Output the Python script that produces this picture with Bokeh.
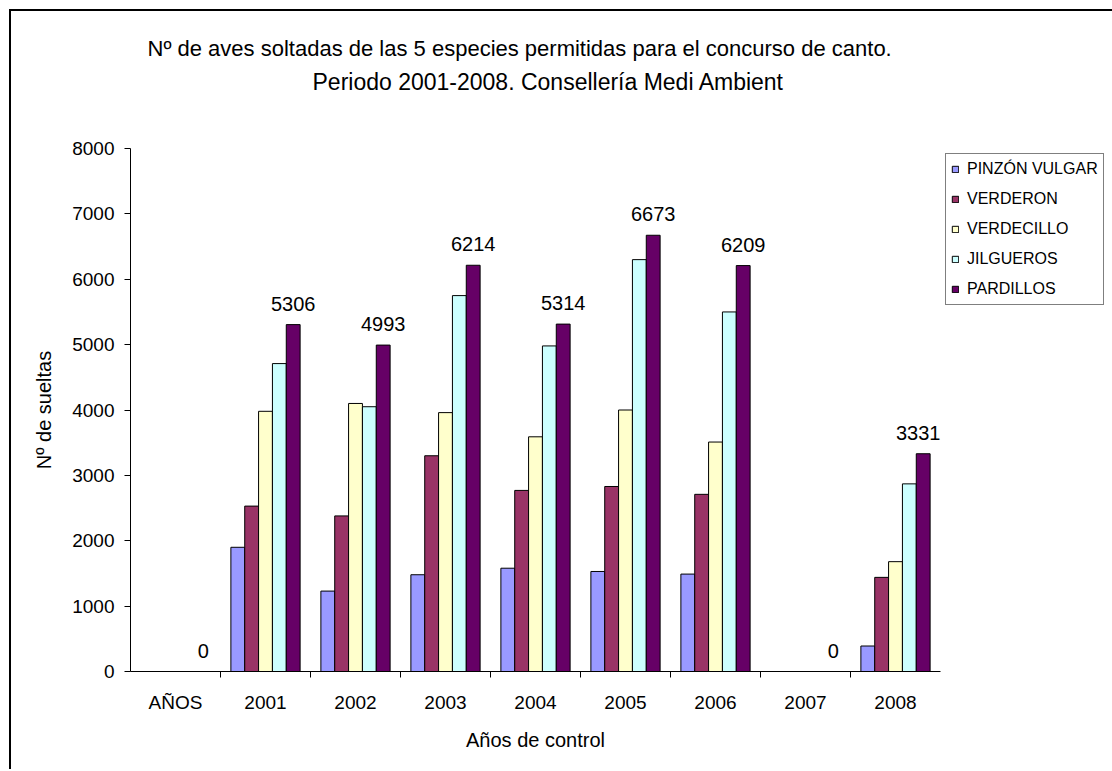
from bokeh.plotting import figure
from bokeh.models import (FactorRange, Range1d, CategoricalAxis, FixedTicker,
                          Legend, LegendItem, LabelSet, ColumnDataSource, Title)
from bokeh.core.properties import value
from bokeh.transform import dodge
from bokeh.embed import file_html
from bokeh.resources import INLINE

# ---------------- data ----------------
categories = ["AÑOS", "2001", "2002", "2003", "2004", "2005", "2006", "2007", "2008"]
series_names = ["PINZÓN VULGAR", "VERDERON", "VERDECILLO", "JILGUEROS", "PARDILLOS"]
pinzon = [0, 1900, 1230, 1480, 1580, 1530, 1490, 0, 390]
verderon = [0, 2530, 2380, 3300, 2770, 2830, 2710, 0, 1440]
verdecillo = [0, 3980, 4100, 3960, 3590, 4000, 3510, 0, 1680]
jilgueros = [0, 4710, 4050, 5750, 4980, 6300, 5500, 0, 2870]
pardillos = [0, 5306, 4993, 6214, 5314, 6673, 6209, 0, 3331]
colors = ["#9999FF", "#993366", "#FFFFCC", "#CCFFFF", "#660066"]
y_ticks = [0, 1000, 2000, 3000, 4000, 5000, 6000, 7000, 8000]
title_line1 = "Nº de aves soltadas de las 5 especies permitidas para el concurso de canto."
title_line2 = "Periodo 2001-2008. Consellería Medi Ambient"
y_title = "Nº de sueltas"
x_title = "Años de control"

FONT = "Liberation Sans"

# the last value label sits at the right edge of the frame: nudge it left so it is not clipped
label_dx = [0] * (len(categories) - 1) + [-5]

source = ColumnDataSource(dict(
    cat=categories, pinzon=pinzon, verderon=verderon, verdecillo=verdecillo,
    jilgueros=jilgueros, pardillos=pardillos,
    pardillos_txt=[str(v) for v in pardillos], label_dx=label_dx,
))
keys = ["pinzon", "verderon", "verdecillo", "jilgueros", "pardillos"]

p = figure(frame_width=810, frame_height=523,
           x_range=FactorRange(factors=categories, range_padding=0),
           y_range=Range1d(0, 8000),
           output_backend="svg", toolbar_location=None, x_axis_location=None,
           min_border_left=119, min_border_right=170, min_border_top=137, min_border_bottom=98)
p.grid.visible = False
p.outline_line_color = None
p.background_fill_color = "white"
p.border_fill_color = "white"
p.styles = {"margin-left": "9px", "margin-top": "9px",
            "border-top": "2px solid black", "border-left": "2px solid black"}

# y axis
ya = p.yaxis[0]
ya.ticker = FixedTicker(ticks=y_ticks)
ya.major_tick_out = 6
ya.major_tick_in = 0
ya.minor_tick_out = 0
ya.minor_tick_in = 0
ya.axis_line_color = "black"
ya.major_tick_line_color = "black"
ya.major_label_standoff = 10
ya.major_label_text_font = FONT
ya.major_label_text_font_size = "19px"
ya.major_label_text_color = "black"
ya.axis_label = y_title
ya.axis_label_text_font = FONT
ya.axis_label_text_font_size = "20px"
ya.axis_label_text_font_style = "normal"
ya.axis_label_text_color = "black"
ya.axis_label_standoff = 14

# x axis: boundary ticks (between categories) + category labels
bounds = ["b%d" % i for i in range(len(categories) + 1)]
p.extra_x_ranges = {"bounds": FactorRange(factors=bounds, range_padding=-0.5,
                                          range_padding_units="absolute")}
tick_axis = CategoricalAxis(x_range_name="bounds",
                            major_label_overrides={b: "" for b in bounds},
                            major_label_text_font_size="0px",
                            major_tick_out=6, major_tick_in=0,
                            axis_line_color="black", major_tick_line_color="black",
                            major_label_standoff=0)
p.add_layout(tick_axis, "below")

cat_axis = CategoricalAxis(axis_line_color=None, major_tick_line_color=None,
                           major_tick_out=0, major_tick_in=0,
                           major_label_text_font=FONT, major_label_text_font_size="19px",
                           major_label_text_color="black", major_label_standoff=14,
                           axis_label=x_title, axis_label_text_font=FONT,
                           axis_label_text_font_size="20px", axis_label_text_font_style="normal",
                           axis_label_text_color="black", axis_label_standoff=13)
p.add_layout(cat_axis, "below")

# bars
bw = 1 / 6.5
renderers = []
for i, (key, color) in enumerate(zip(keys, colors)):
    r = p.vbar(x=dodge("cat", (i - 2) * bw, range=p.x_range), top=key, width=bw,
               source=source, fill_color=color, line_color="black", line_width=1)
    renderers.append(r)

labels = LabelSet(x=dodge("cat", 2 * bw, range=p.x_range), y="pardillos", text="pardillos_txt",
                  source=source, text_align="center", text_baseline="bottom", y_offset=14,
                  x_offset="label_dx",
                  text_font=value(FONT), text_font_size=value("20px"), text_color="black")
p.add_layout(labels)

legend = Legend(items=[LegendItem(label=n, renderers=[r]) for n, r in zip(series_names, renderers)],
                location="top_left", glyph_width=8, glyph_height=8, label_height=20,
                spacing=10, padding=5, margin=5, label_standoff=8,
                label_text_font=FONT, label_text_font_size="16px", label_text_color="black",
                border_line_color="black", border_line_width=1, background_fill_color="white")
p.add_layout(legend, "right")

# titles (first added is closest to the frame)
p.add_layout(Title(text=" ", standoff=23, text_font=FONT, text_font_size="22px"), "above")
p.add_layout(Title(text=title_line2, align="left", offset=182, standoff=8,
                   text_font=FONT, text_font_size="23px", text_font_style="normal",
                   text_color="black"), "above")
p.add_layout(Title(text=title_line1, align="left", offset=17, standoff=4,
                   text_font=FONT, text_font_size="22px", text_font_style="normal",
                   text_color="black"), "above")

open("out.html", "w").write(file_html(p, INLINE))
